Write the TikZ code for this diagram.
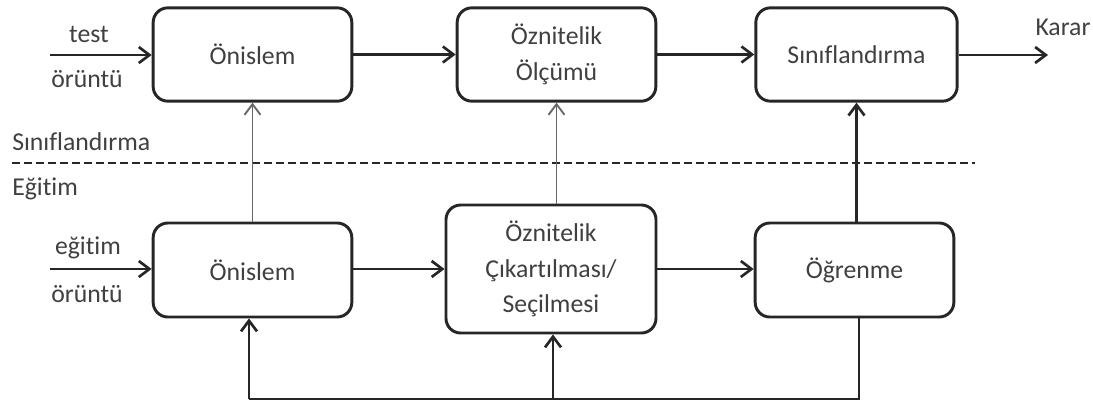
\documentclass[tikz,border=0pt]{standalone}
\usepackage{fontspec}
\setmainfont{Carlito}[Ligatures={NoCommon}]
\usetikzlibrary{arrows.meta,calc}
\definecolor{txt}{HTML}{404040}
\definecolor{ln}{HTML}{262626}
\definecolor{thinln}{HTML}{666666}
\begin{document}
\begin{tikzpicture}[x=0.75pt,y=-0.75pt,
  font=\fontsize{19.3}{26.5}\selectfont,
  box/.style={draw=ln, line width=2.2pt, rounded corners=11pt, fill=white,
    text=txt, align=center, inner sep=0pt},
  lbl/.style={text=txt, inner sep=0pt},
  arr/.style={draw=ln, line width=2.2pt, -{Straight Barb[length=8pt,width=12pt,line width=2pt]}},
  thinarr/.style={draw=thinln, line width=1.1pt, -{Straight Barb[length=8pt,width=12pt,line width=1.4pt]}},
  fbline/.style={draw=ln, line width=2.2pt}
]
\useasboundingbox (0,0) rectangle (1093,405);
% boxes
\node[box, minimum width=149pt, minimum height=70pt] (b1) at (252.5,54.5) {Önislem};
\node[box, minimum width=149pt, minimum height=70pt] (b2) at (556.5,54.5) {Öznitelik\\Ölçümü};
\node[box, minimum width=151pt, minimum height=70pt] (b3) at (856.5,54.5) {Sınıflandırma};
\node[box, minimum width=149pt, minimum height=70.5pt] (b4) at (252.5,270) {Önislem};
\node[box, minimum width=157.5pt, minimum height=96pt] (b5) at (551,269) {Öznitelik\\Çıkartılması/\\Seçilmesi};
\node[box, minimum width=149pt, minimum height=70.5pt] (b6) at (854.5,270) {Öğrenme};
% labels
\node[lbl] (t1) at (89,34) {test};
\node[lbl] (t2) at (87,79) {örüntü};
\node[lbl] (k) at (1063,27) {Karar};
\node[lbl, anchor=west] (s) at (12,142) {Sınıflandırma};
\node[lbl, anchor=west] (e) at (12,189) {Eğitim};
\node[lbl] (t3) at (88,248) {eğitim};
\node[lbl] (t4) at (87,294) {örüntü};
% dashed separator
\coordinate (dl) at (12,163);
\coordinate (dr) at (975,163);
\draw[ln, line width=1.6pt, dash pattern=on 6pt off 3pt] (dl) -- (dr);
% inputs / outputs
\coordinate (in1) at (50,55);
\coordinate (in2) at (50,269);
\coordinate (out) at (1048,55);
\draw[arr] (in1) -- (in1 -| b1.west);
\draw[arr] (in2) -- (in2 -| b4.west);
\draw[arr] (b3.east |- out) -- (out);
% horizontal flow
\draw[arr] (b1.east) -- (b2.west);
\draw[arr] (b2.east) -- (b3.west);
\draw[arr] (b4.east |- in2) -- (b5.west |- in2);
\draw[arr] (b5.east |- in2) -- (b6.west |- in2);
% vertical links
\draw[thinarr] (b4.north) -- (b1.south);
\draw[thinarr] (b2.south |- b5.north) -- (b2.south);
\draw[arr] (b3.south |- b6.north) -- (b3.south);
% feedback
\coordinate (fbr) at (859,399);
\coordinate (fbl) at (249,399);
\draw[fbline] (fbr |- b6.south) -- (fbr) -- (fbl);
\draw[arr] (fbl) -- (fbl |- b4.south);
\coordinate (fbm) at (553,399);
\draw[arr] (fbm) -- (fbm |- b5.south);
\end{tikzpicture}
\end{document}
